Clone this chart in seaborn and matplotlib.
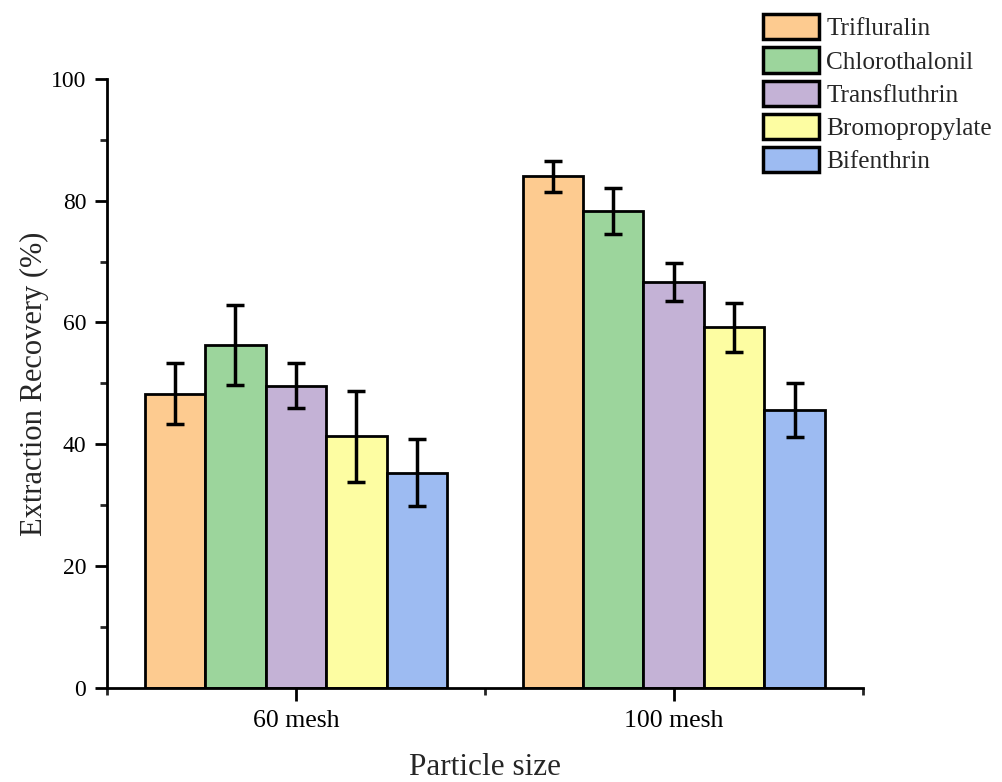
import numpy as np
import pandas as pd
import matplotlib
matplotlib.use("Agg")
import matplotlib.pyplot as plt
import seaborn as sns
from matplotlib.ticker import MultipleLocator, FixedLocator

sizes = ["60 mesh", "100 mesh"]
pesticides = ["Trifluralin", "Chlorothalonil", "Transfluthrin", "Bromopropylate", "Bifenthrin"]
recovery_60 = [48.3, 56.3, 49.6, 41.3, 35.3]
recovery_100 = [84.0, 78.3, 66.7, 59.2, 45.6]
err_60 = [5.0, 6.6, 3.7, 7.5, 5.5]
err_100 = [2.5, 3.7, 3.1, 4.0, 4.4]
colors = ["#FDCB90", "#9CD59C", "#C4B2D6", "#FDFDA2", "#9DBBF2"]

df = pd.DataFrame({
    "size": [sizes[0]] * 5 + [sizes[1]] * 5,
    "pesticide": pesticides * 2,
    "recovery": recovery_60 + recovery_100,
    "err": err_60 + err_100,
})

sns.set_style("ticks")
plt.rcParams["font.family"] = ["Liberation Serif", "DejaVu Serif"]

fig = plt.figure(figsize=(10.02, 7.82), dpi=100)
ax = fig.add_axes([0.1068, 0.1202, 0.754, 0.779])

sns.barplot(data=df, x="size", y="recovery", hue="pesticide", hue_order=pesticides,
            palette=colors, saturation=1, width=0.8, errorbar=None,
            edgecolor="black", linewidth=2, ax=ax)

# error bars at each bar's centre
for i, p in enumerate(pesticides):
    cont = ax.containers[i]
    xs = [b.get_x() + b.get_width() / 2 for b in cont]
    ys = [b.get_height() for b in cont]
    es = df[df["pesticide"] == p]["err"].values
    ax.errorbar(xs, ys, yerr=es, fmt="none", ecolor="black", elinewidth=2.5,
                capsize=6.5, capthick=2.5, zorder=5)

ax.set_xlim(-0.5, 1.5)
ax.set_ylim(0, 100)
ax.yaxis.set_major_locator(MultipleLocator(20))
ax.yaxis.set_minor_locator(MultipleLocator(10))
ax.xaxis.set_minor_locator(FixedLocator([-0.5, 0.5, 1.5]))
ax.tick_params(axis="both", which="major", direction="out", length=9, width=2,
               colors="black")
ax.tick_params(axis="y", which="major", labelsize=17, pad=6)
ax.tick_params(axis="x", which="major", labelsize=18.5, pad=7)
ax.tick_params(axis="both", which="minor", direction="out", length=5, width=2)
for s in ["left", "bottom"]:
    ax.spines[s].set_linewidth(2)
    ax.spines[s].set_color("black")
sns.despine(ax=ax)

ax.set_xlabel("Particle size", fontsize=22.5, labelpad=15)
ax.set_ylabel("Extraction Recovery (%)", fontsize=22, labelpad=1)

handles, labels = ax.get_legend_handles_labels()
leg = ax.legend(handles, labels, loc="upper left", bbox_to_anchor=(0.759, 0.985),
                bbox_transform=fig.transFigure, frameon=False, fontsize=18.2,
                handlelength=2.2, handleheight=1.15, labelspacing=0.28,
                handletextpad=0.3, borderpad=0.1, borderaxespad=0)
for h in leg.legend_handles:
    h.set_edgecolor("black")
    h.set_linewidth(2.5)

fig.savefig("out.png", dpi=100, facecolor="white")
